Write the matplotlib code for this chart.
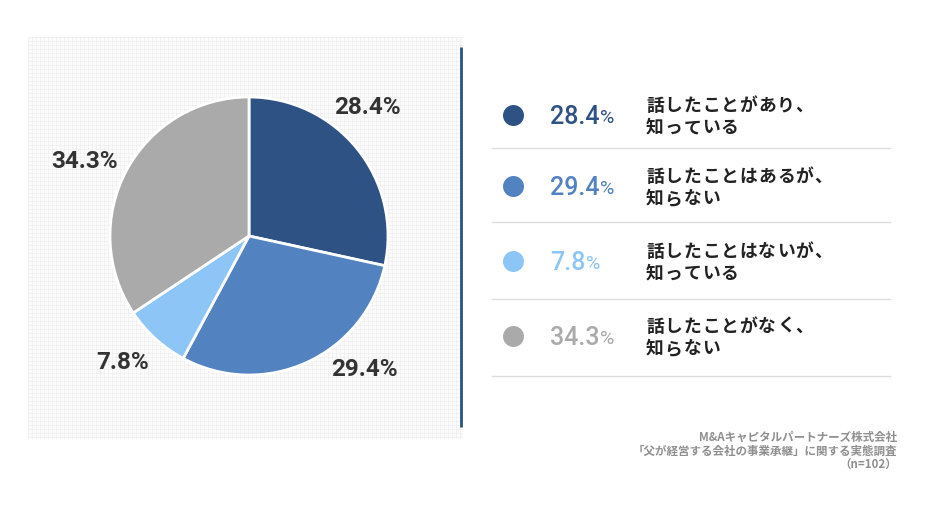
import matplotlib
matplotlib.use("Agg")
import matplotlib.pyplot as plt
import numpy as np

# ---- data ----
values = [28.4, 29.4, 7.8, 34.3]
pct_labels = ["28.4", "29.4", "7.8", "34.3"]
desc_line1 = ["話したことがあり、", "話したことはあるが、", "話したことはないが、", "話したことがなく、"]
desc_line2 = ["知っている", "知らない", "知っている", "知らない"]
colors = ["#2e5283", "#5282bf", "#8ec5f7", "#aaaaaa"]
source_lines = ["M&Aキャピタルパートナーズ株式会社",
                "「父が経営する会社の事業承継」に関する実態調査",
                "（n=102）"]

JP = ["Noto Sans CJK JP", "DejaVu Sans"]
NUM = ["Roboto", "DejaVu Sans"]
COND = ["Roboto", "DejaVu Sans"]

W, H = 930, 510
fig = plt.figure(figsize=(W / 100, H / 100), dpi=100)
fig.patch.set_facecolor("white")

def fx(x):
    return x / W

def fy(y):
    return 1 - y / H

# ---- grid background panel ----
px0, px1, py0, py1 = 28, 463, 38, 440
bg = fig.add_axes([fx(px0), fy(py1), (px1 - px0) / W, (py1 - py0) / H])
bg.set_xlim(px0, px1)
bg.set_ylim(py1, py0)
bg.set_facecolor("#fbfbfb")
for gx in np.arange(px0, px1, 4):
    bg.axvline(gx, color="#efefef", lw=0.5)
for gy in np.arange(py0, py1, 4):
    bg.axhline(gy, color="#efefef", lw=0.5)
bg.set_xticks([]); bg.set_yticks([])
for s in bg.spines.values():
    s.set_visible(False)

# ---- pie ----
cx, cy, r = 249, 237, 139
pax = fig.add_axes([fx(cx - r), fy(cy + r), 2 * r / W, 2 * r / H])
pax.pie(values, colors=colors, startangle=90, counterclock=False,
        wedgeprops=dict(edgecolor="white", linewidth=2), radius=1)
pax.set_xlim(-1, 1); pax.set_ylim(-1, 1)
pax.set_aspect("auto")
pax.axis("off")
label_pos = [(0.85, 0.93), (0.83, -0.95), (-0.91, -0.90), (-1.18, 0.54)]
for (lx, ly), p in zip(label_pos, pct_labels):
    pax.text(lx, ly, p + "%", ha="center", va="center", fontsize=17.5,
             fontweight="bold", color="#333333", family=COND, clip_on=False)

# ---- overlay for legend / text ----
ov = fig.add_axes([0, 0, 1, 1])
ov.set_xlim(0, W); ov.set_ylim(H, 0)
ov.axis("off")
ov.patch.set_alpha(0)

# vertical divider
ov.plot([461, 461], [48, 428], color="#2e5283", lw=2, solid_capstyle="butt")


def tracked(x, y, s, pitch, **kw):
    for k, ch in enumerate(s):
        ov.text(x + k * pitch, y, ch, ha="left", va="center", **kw)


row_y = [116, 187, 262, 337]
sep_y = [149, 223, 300, 377]
fig.canvas.draw()
renderer = fig.canvas.get_renderer()
for i, yy in enumerate(row_y):
    c = colors[i]
    ov.scatter([513], [yy], s=228, color=c, zorder=3, linewidths=0)
    t = ov.text(550, yy + 1, pct_labels[i], ha="left", va="center", fontsize=18,
                color=c, family=NUM, fontweight="medium")
    bb = t.get_window_extent(renderer=renderer)
    x_end = bb.x1 / fig.dpi * 100  # pixels
    ov.text(x_end + 0.5, yy + 2, "%", ha="left", va="center", fontsize=14,
            color=c, family=NUM)
    tracked(646, yy - 10, desc_line1[i], 18.7, fontsize=12.8,
            color="#222222", family=JP, fontweight="bold")
    tracked(646, yy + 12, desc_line2[i], 18.7, fontsize=12.8,
            color="#222222", family=JP, fontweight="bold")
    ov.plot([492, 890], [sep_y[i], sep_y[i]], color="#dddddd", lw=1)

for s, yy in zip(source_lines, [437, 451, 465]):
    ov.text(897, yy, s, ha="right", va="center", fontsize=8.3,
            color="#8f8f8f", family=JP, fontweight="bold")

fig.savefig("out.png", dpi=100, facecolor="white")
